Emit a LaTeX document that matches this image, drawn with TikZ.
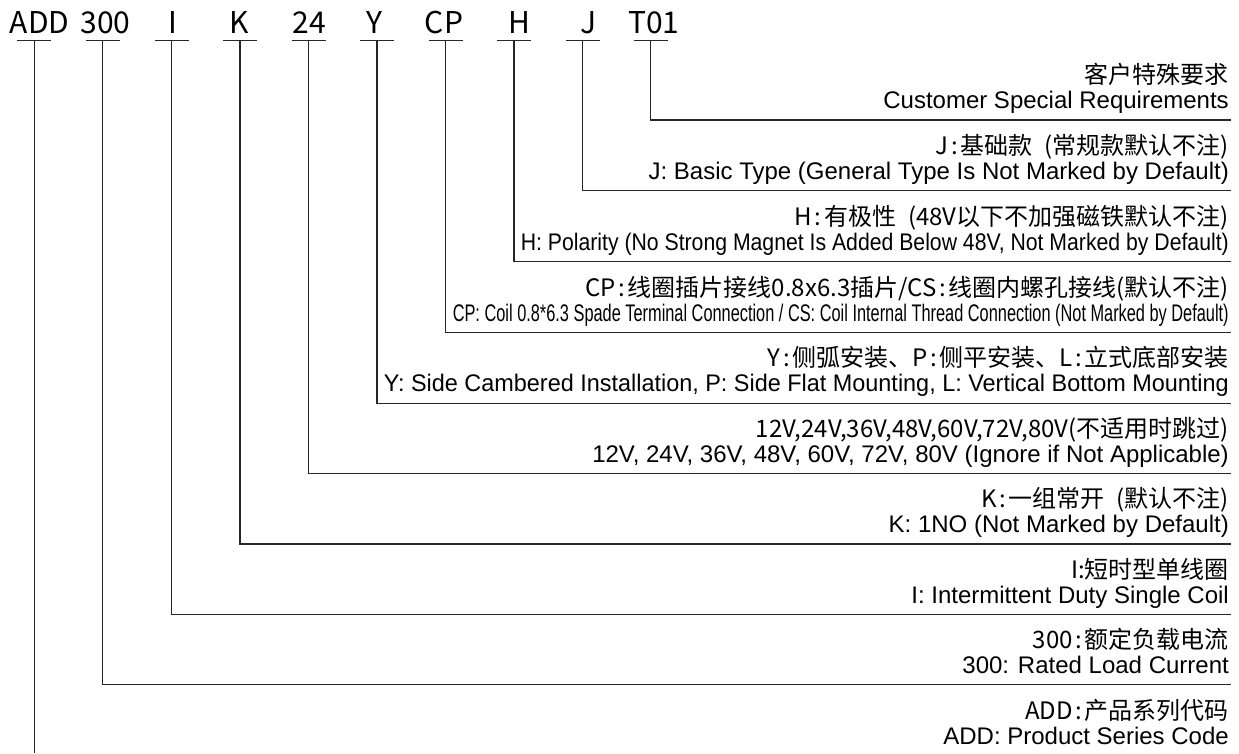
\documentclass[tikz,border=0pt]{standalone}
\usepackage{fontspec}
\usepackage{graphicx}
\newfontfamily\enfam{Liberation Sans}
\newfontfamily\zhpfam{Noto Sans CJK SC}
\newcommand\enfont{\enfam\fontsize{24pt}{28pt}\selectfont}
\newcommand\zhpfont{\zhpfam\fontsize{24pt}{28pt}\selectfont}
\newcommand\codefont{\zhpfam\fontsize{30pt}{34pt}\selectfont}
% half-width centred colon and half-width space used in the Chinese lines
\newcommand\hc{\makebox[.5em]{:}}
\newcommand\hs{\hspace{.5em}}
\tikzset{
  codetxt/.style={font=\codefont, anchor=base, inner sep=0pt},
  en/.style={font=\enfont, anchor=base east, inner sep=0pt},
  zh/.style={font=\zhpfont, anchor=base east, inner sep=0pt},
  link/.style={line width=1.3pt, black!85},
}
\begin{document}
\begin{tikzpicture}[x=1pt,y=-1pt]
\useasboundingbox (0,0) rectangle (1239,753);
% codes
\node[codetxt] (cADD) at (39.6,33) {ADD};
\node[codetxt] (c300) at (105.5,33) {300};
\node[codetxt] (cI) at (172.5,33) {I};
\node[codetxt] (cK) at (239.5,33) {K};
\node[codetxt] (c24) at (309.5,33) {24};
\node[codetxt] (cY) at (374.5,33) {Y};
\node[codetxt] (cCP) at (444,33) {CP};
\node[codetxt] (cH) at (519,33) {H};
\node[codetxt] (cJ) at (588.5,33) {J};
\node[codetxt] (cT) at (654,33) {T01};
% underline anchor points
\coordinate (uADD) at (34.3,40.7);
\coordinate (u300) at (102.7,40.7);
\coordinate (uI) at (171.7,40.7);
\coordinate (uK) at (240,40.7);
\coordinate (u24) at (308.5,40.7);
\coordinate (uY) at (377,40.7);
\coordinate (uCP) at (445.5,40.7);
\coordinate (uH) at (514,40.7);
\coordinate (uJ) at (582.5,40.7);
\coordinate (uT) at (650.7,40.7);
% right ends of leader lines
\coordinate (eT) at (1230.7,120);
\coordinate (eJ) at (1230.7,190.7);
\coordinate (eH) at (1230.7,261.7);
\coordinate (eCP) at (1230.7,332.3);
\coordinate (eY) at (1230.7,403.3);
\coordinate (e24) at (1230.7,473.3);
\coordinate (eK) at (1230.7,544);
\coordinate (eI) at (1230.7,614.7);
\coordinate (e300) at (1230.7,684.7);
\coordinate (eADD) at (34.3,753);
% underlines
\foreach \u in {uADD,u300,uI,uK,u24,uY,uCP,uH,uJ,uT}
  \draw[link] ([xshift=-17pt]\u) -- ([xshift=17pt]\u);
% leaders
\draw[link] (uT) |- (eT);
\draw[link] (uJ) |- (eJ);
\draw[link] (uH) |- (eH);
\draw[link] (uCP) |- (eCP);
\draw[link] (uY) |- (eY);
\draw[link] (u24) |- (e24);
\draw[link] (uK) |- (eK);
\draw[link] (uI) |- (eI);
\draw[link] (u300) |- (e300);
\draw[link] (uADD) -- (eADD);
% labels
\node[zh] (zT) at (1229,83) {客户特殊要求};
\node[en] (nT) at (1229,108) {Customer Special Requirements};
\node[zh] (zJ) at (1229,154) {J\hc 基础款\hs(常规款默认不注)};
\node[en] (nJ) at (1229,179) {J: Basic Type (General Type Is Not Marked by Default)};
\node[zh] (zH) at (1229,225) {H\hc 有极性\hs(48V以下不加强磁铁默认不注)};
\node[en] (nH) at (1229,250) {\resizebox{708pt}{\height}{H: Polarity (No Strong Magnet Is Added Below 48V, Not Marked by Default)}};
\node[zh] (zCP) at (1229,296) {CP\hc 线圈插片接线0.8x6.3插片/CS\hc 线圈内螺孔接线(默认不注)};
\node[en] (nCP) at (1229,321) {\resizebox{776pt}{\height}{CP: Coil 0.8*6.3 Spade Terminal Connection / CS: Coil Internal Thread Connection (Not Marked by Default)}};
\node[zh] (zY) at (1229,366) {Y\hc 侧弧安装、P\hc 侧平安装、L\hc 立式底部安装};
\node[en] (nY) at (1229,391) {\resizebox{845pt}{\height}{Y: Side Cambered Installation, P: Side Flat Mounting, L: Vertical Bottom Mounting}};
\node[zh] (z24) at (1229,437) {12V,24V,36V,48V,60V,72V,80V(不适用时跳过)};
\node[en] (n24) at (1229,462) {12V, 24V, 36V, 48V, 60V, 72V, 80V (Ignore if Not Applicable)};
\node[zh] (zK) at (1229,507) {K\hc 一组常开\hs(默认不注)};
\node[en] (nK) at (1229,532) {K: 1NO (Not Marked by Default)};
\node[zh] (zI) at (1229,578) {I:短时型单线圈};
\node[en] (nI) at (1229,603) {I: Intermittent Duty Single Coil};
\node[zh] (z300) at (1229,648) {300\hc 额定负载电流};
\node[en] (n300) at (1229,673) {300: Rated Load Current};
\node[zh] (zADD) at (1229,719) {ADD\hc 产品系列代码};
\node[en] (nADD) at (1229,744) {ADD: Product Series Code};
\end{tikzpicture}
\end{document}
